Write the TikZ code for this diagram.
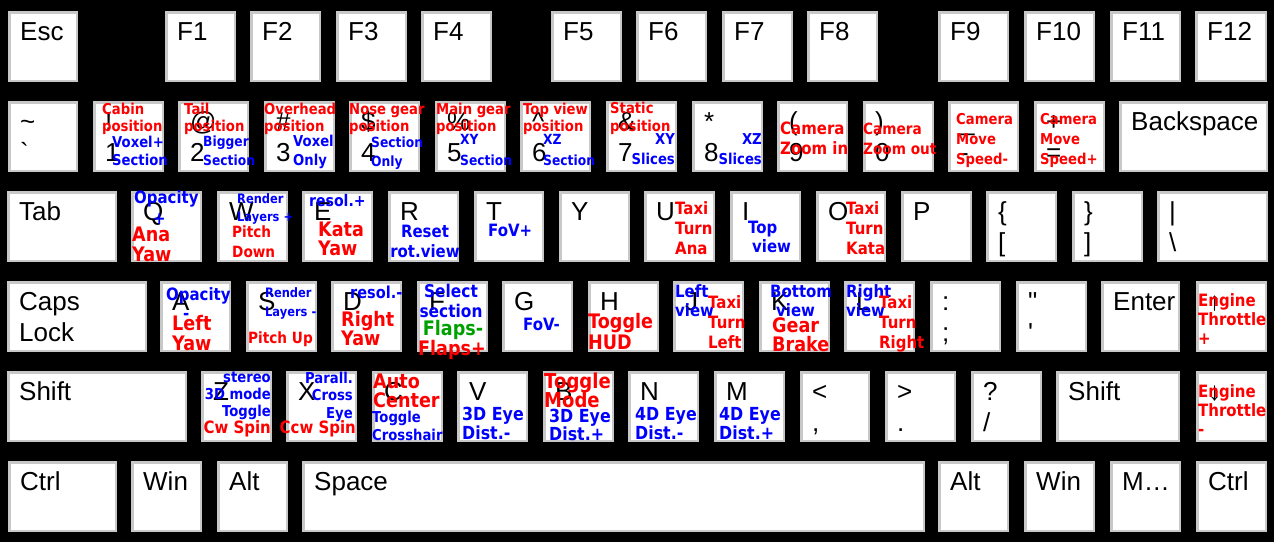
\documentclass[tikz,border=0pt]{standalone}
\usepackage{fontspec}
\setmainfont{Liberation Sans}
\newfontfamily\lf{DejaVu Sans}[FakeStretch=0.88]
\definecolor{kgray}{RGB}{200,200,200}
\definecolor{tgreen}{RGB}{0,160,0}
\newcounter{labcnt}
\tikzset{
 keybox/.style={draw=kgray, line width=2.5pt, fill=white, rectangle, inner sep=0pt, outer sep=0pt},
 kl/.style={inner sep=0pt, anchor=base west, font=\fontsize{26}{26}\selectfont, text=black},
 fs/.style={font=\lf\bfseries\fontsize{#1}{#1}\selectfont},
 lw/.style={inner sep=0pt, anchor=base west},
 le/.style={inner sep=0pt, anchor=base east},
 lc/.style={inner sep=0pt, anchor=base},
 rd/.style={text=red}, bl/.style={text=blue}, gr/.style={text=tgreen},
}
\newcommand\kbox[5]{\node[keybox, minimum width={#4-#2-2.5}, minimum height={#5-#3-2.5}] (#1) at ({(#2+#4)/2},{(#3+#5)/2}) {};}
\newcommand\ka[6]{\kbox{#1}{#2}{#3}{#4}{#5}\node[kl] (#1t) at ({#2+12},{#3+29}) {#6};}
\newcommand\kb[7]{\ka{#1}{#2}{#3}{#4}{#5}{#6}\node[kl] (#1b) at ({#2+12},{#3+60}) {#7};}
\newcommand\tl[5]{\foreach \ln [count=\i from 0] in {#5}{\stepcounter{labcnt}\node[#3] (lab\arabic{labcnt}) at ({#1},{#2+\i*#4}) {\ln};}}
\begin{document}
\begin{tikzpicture}[x=1pt,y=-1pt]
\useasboundingbox (0,0) rectangle (1274,542);
\fill[black] (0,0) rectangle (1274,542);
% row 1
\ka{esc}{8}{11}{78}{82}{Esc}
\ka{f1}{165}{11}{236}{82}{F1}
\ka{f2}{250}{11}{321}{82}{F2}
\ka{f3}{336}{11}{407}{82}{F3}
\ka{f4}{421}{11}{492}{82}{F4}
\ka{f5}{551}{11}{622}{82}{F5}
\ka{f6}{636}{11}{707}{82}{F6}
\ka{f7}{722}{11}{793}{82}{F7}
\ka{f8}{807}{11}{878}{82}{F8}
\ka{f9}{938}{11}{1009}{82}{F9}
\ka{f10}{1024}{11}{1095}{82}{F10}
\ka{f11}{1110}{11}{1181}{82}{F11}
\ka{f12}{1195}{11}{1267}{82}{F12}
% row 2
\kb{tld}{8}{101}{78}{172}{\textasciitilde}{\textasciigrave}
\kb{n1}{93}{101}{164}{172}{!}{1}
\kb{n2}{178}{101}{249}{172}{@}{2}
\kb{n3}{264}{101}{335}{172}{\#}{3}
\kb{n4}{349}{101}{420}{172}{\$}{4}
\kb{n5}{435}{101}{506}{172}{\%}{5}
\kb{n6}{520}{101}{591}{172}{\textasciicircum}{6}
\kb{n7}{606}{101}{677}{172}{\&}{7}
\kb{n8}{692}{101}{763}{172}{*}{8}
\kb{n9}{777}{101}{848}{172}{(}{9}
\kb{n0}{863}{101}{934}{172}{)}{0}
\kb{mn}{948}{101}{1019}{172}{\_}{-}
\kb{eq}{1034}{101}{1105}{172}{+}{=}
\ka{bks}{1119}{101}{1268}{172}{Backspace}
% row 3
\ka{tab}{7}{191}{117}{262}{Tab}
\ka{q}{131}{191}{202}{262}{Q}
\ka{w}{217}{191}{288}{262}{W}
\ka{e}{302}{191}{373}{262}{E}
\ka{r}{388}{191}{459}{262}{R}
\ka{t}{474}{191}{544}{262}{T}
\ka{y}{559}{191}{630}{262}{Y}
\ka{u}{644}{191}{715}{262}{U}
\ka{i}{730}{191}{801}{262}{I}
\ka{o}{816}{191}{886}{262}{O}
\ka{p}{901}{191}{972}{262}{P}
\kb{lb}{986}{191}{1057}{262}{\{}{[}
\kb{rb}{1072}{191}{1143}{262}{\}}{]}
\kb{bs}{1157}{191}{1268}{262}{\textbar}{\textbackslash}
% row 4
\kb{caps}{7}{281}{147}{352}{Caps}{Lock}
\ka{a}{160}{281}{231}{352}{A}
\ka{s}{246}{281}{317}{352}{S}
\ka{d}{331}{281}{402}{352}{D}
\ka{f}{417}{281}{488}{352}{F}
\ka{g}{502}{281}{573}{352}{G}
\ka{h}{588}{281}{659}{352}{H}
\ka{j}{673}{281}{744}{352}{J}
\ka{k}{759}{281}{830}{352}{K}
\ka{l}{844}{281}{915}{352}{L}
\kb{sc}{930}{281}{1001}{352}{:}{;}
\kb{qt}{1016}{281}{1087}{352}{\textquotedbl}{\textquotesingle}
\ka{ent}{1101}{281}{1180}{352}{Enter}
\ka{up}{1196}{281}{1267}{352}{↑}
% row 5
\ka{lsh}{7}{371}{187}{442}{Shift}
\ka{z}{201}{371}{272}{442}{Z}
\ka{x}{286}{371}{357}{442}{X}
\ka{c}{372}{371}{443}{442}{C}
\ka{v}{457}{371}{528}{442}{V}
\ka{b}{543}{371}{614}{442}{B}
\ka{n}{628}{371}{699}{442}{N}
\ka{m}{714}{371}{785}{442}{M}
\kb{lt}{800}{371}{870}{442}{<}{,}
\kb{gt}{885}{371}{956}{442}{>}{.}
\kb{qm}{971}{371}{1042}{442}{?}{/}
\ka{rsh}{1056}{371}{1180}{442}{Shift}
\ka{dn}{1196}{371}{1267}{442}{↓}
% row 6
\ka{lctrl}{8}{461}{117}{532}{Ctrl}
\ka{lwin}{131}{461}{202}{532}{Win}
\ka{lalt}{217}{461}{288}{532}{Alt}
\ka{spc}{302}{461}{925}{532}{Space}
\ka{ralt}{938}{461}{1009}{532}{Alt}
\ka{rwin}{1024}{461}{1095}{532}{Win}
\ka{menu}{1110}{461}{1181}{532}{M…}
\ka{rctrl}{1196}{461}{1267}{532}{Ctrl}
% overlays row 2
\tl{102}{114}{lw,rd,fs=15}{17}{Cabin,position}
\tl{112}{147}{lw,bl,fs=15}{18}{Voxel+,Section}
\tl{184}{114}{lw,rd,fs=15}{17}{Tail,position}
\tl{203}{146}{lw,bl,fs=14}{19}{Bigger,Section}
\tl{264}{114}{lw,rd,fs=15}{17}{Overhead,position}
\tl{293}{146}{lw,bl,fs=15}{19}{Voxel,Only}
\tl{349}{114}{lw,rd,fs=15}{17}{Nose gear,position}
\tl{371}{147}{lw,bl,fs=14}{19}{Section,Only}
\tl{436}{114}{lw,rd,fs=15}{17}{Main gear,position}
\tl{460}{144}{lw,bl,fs=14}{21}{XY,Section}
\tl{523}{114}{lw,rd,fs=15}{17}{Top view,position}
\tl{543}{144}{lw,bl,fs=14}{21}{XZ,Section}
\tl{610}{113}{lw,rd,fs=15}{18}{Static,position}
\tl{675}{144}{le,bl,fs=15}{20}{XY,Slices}
\tl{762}{144}{le,bl,fs=15}{20}{XZ,Slices}
\tl{780}{134}{lw,rd,fs=17}{20}{Camera,Zoom in}
\tl{863}{134}{lw,rd,fs=15.5}{20}{Camera,Zoom out}
\tl{956}{124}{lw,rd,fs=15}{20}{Camera,Move,Speed-}
\tl{1040}{124}{lw,rd,fs=15}{20}{Camera,Move,Speed+}
% overlays row 3
\tl{134}{203}{lw,bl,fs=17}{0}{Opacity}
\tl{153}{224}{lw,bl,fs=17}{0}{+}
\tl{132}{241}{lw,rd,fs=20}{20}{Ana,Yaw}
\tl{237}{203}{lw,bl,fs=13}{18}{Render,Layers +}
\tl{232}{237}{lw,rd,fs=15.5}{20}{Pitch,Down}
\tl{309}{206}{lw,bl,fs=16}{0}{resol.+}
\tl{318}{236}{lw,rd,fs=20}{19}{Kata,Yaw}
\tl{425}{237}{lc,bl,fs=17}{20}{Reset,rot.view}
\tl{488}{236}{lw,bl,fs=17}{0}{FoV+}
\tl{675}{214}{lw,rd,fs=17}{20}{Taxi,Turn,Ana}
\tl{748}{233}{lw,bl,fs=17}{0}{Top}
\tl{752}{252}{lw,bl,fs=17}{0}{view}
\tl{846}{214}{lw,rd,fs=17}{20}{Taxi,Turn,Kata}
% overlays row 4
\tl{166}{300}{lw,bl,fs=17}{0}{Opacity}
\tl{183}{319}{lw,bl,fs=17}{0}{-}
\tl{172}{330}{lw,rd,fs=20}{20}{Left,Yaw}
\tl{265}{297}{lw,bl,fs=13}{19}{Render,Layers -}
\tl{248}{343}{lw,rd,fs=15.5}{0}{Pitch Up}
\tl{350}{298}{lw,bl,fs=16.5}{0}{resol.-}
\tl{341}{326}{lw,rd,fs=20}{19}{Right,Yaw}
\tl{451}{297}{lc,bl,fs=17.5}{20}{Select,section}
\tl{453}{335}{lc,gr,fs=20}{0}{Flaps-}
\tl{452}{355}{lc,rd,fs=20}{0}{Flaps+}
\tl{523}{330}{lw,bl,fs=17}{0}{FoV-}
\tl{588}{328}{lw,rd,fs=20}{21}{Toggle,HUD}
\tl{675}{297}{lw,bl,fs=17}{19}{Left,view}
\tl{708}{308}{lw,rd,fs=17}{20}{Taxi,Turn,Left}
\tl{770}{297}{lw,bl,fs=17}{0}{Bottom}
\tl{776}{316}{lw,bl,fs=17}{0}{view}
\tl{772}{332}{lw,rd,fs=20}{19}{Gear,Brake}
\tl{846}{297}{lw,bl,fs=17}{19}{Right,view}
\tl{879}{308}{lw,rd,fs=17}{20}{Taxi,Turn,Right}
\tl{1198}{306}{lw,rd,fs=17}{19}{Engine,Throttle,+}
% overlays row 5
\tl{271}{382}{le,bl,fs=15}{17}{stereo,3D mode,Toggle}
\tl{271}{433}{le,rd,fs=17}{0}{Cw Spin}
\tl{353}{383}{le,bl,fs=15}{17.5}{Parall.,Cross,Eye}
\tl{356}{433}{le,rd,fs=17}{0}{Ccw Spin}
\tl{373}{388}{lw,rd,fs=20}{19}{Auto,Center}
\tl{372}{422}{lw,bl,fs=15}{18}{Toggle,Crosshair}
\tl{462}{420}{lw,bl,fs=18}{19}{3D Eye,Dist.-}
\tl{544}{388}{lw,rd,fs=20.5}{19}{Toggle,Mode}
\tl{549}{422}{lw,bl,fs=18}{18}{3D Eye,Dist.+}
\tl{635}{420}{lw,bl,fs=18}{19}{4D Eye,Dist.-}
\tl{719}{420}{lw,bl,fs=18}{19}{4D Eye,Dist.+}
\tl{1198}{397}{lw,rd,fs=17}{19}{Engine,Throttle,-}
\end{tikzpicture}
\end{document}
